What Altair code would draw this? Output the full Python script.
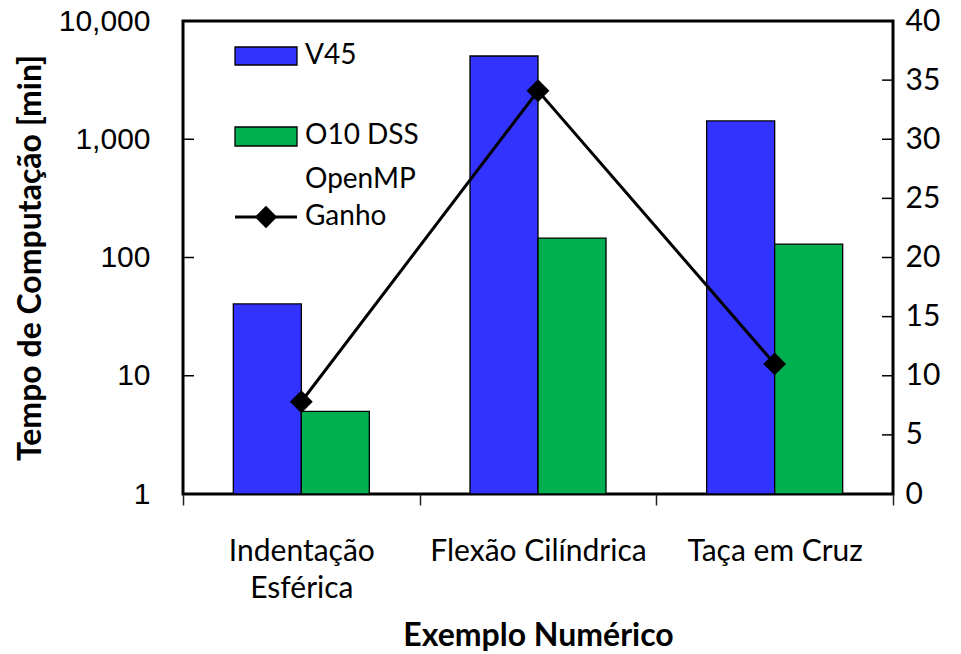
import altair as alt
import pandas as pd

# Computation time per numerical example (minutes, log scale) and speed-up
categorias = ["Indentação\nEsférica", "Flexão Cilíndrica", "Taça em Cruz"]
series = ["V45", "O10 DSS OpenMP"]
tempo_v45 = [40.5, 5060, 1430]
tempo_o10 = [5.0, 146, 130]
ganho = [7.8, 34.1, 11.0]

cores = ["#3333FF", "#00B050"]
log_ticks = [1, 10, 100, 1000, 10000]
ganho_ticks = [0, 5, 10, 15, 20, 25, 30, 35, 40]

W, H = 710, 473
FONT = "Lato"

bars_df = pd.DataFrame(
    [{"categoria": c, "serie": series[0], "tempo": v} for c, v in zip(categorias, tempo_v45)]
    + [{"categoria": c, "serie": series[1], "tempo": v} for c, v in zip(categorias, tempo_o10)]
)
ganho_df = pd.DataFrame({"categoria": categorias, "ganho": ganho})

x_axis = alt.Axis(
    title="Exemplo Numérico",
    labelExpr="split(datum.label, '\\n')",
    labelAngle=0,
    labelLimit=0,
    labelFont=FONT,
    labelFontSize=30,
    labelLineHeight=37,
    labelPadding=31,
    labelColor="black",
    titleFont=FONT,
    titleFontSize=32,
    titleFontWeight="bold",
    titleColor="black",
    titlePadding=17,
    tickBand="extent",
    tickSize=11,
    tickWidth=1.5,
    tickColor="#222",
    domain=False,
    grid=False,
)
x_enc = alt.X(
    "categoria:N", sort=categorias, scale=alt.Scale(paddingInner=0, paddingOuter=0), axis=x_axis
)

y_log = alt.Scale(type="log", domain=[1, 10000])
y_lin = alt.Scale(domain=[0, 40])

log_axis = alt.Axis(
    title="Tempo de Computação [min]",
    values=log_ticks,
    format=",",
    ticks=False,
    domain=False,
    grid=False,
    labelFont="Liberation Sans",
    labelFontSize=30,
    labelColor="black",
    labelPadding=33,
    titleFont=FONT,
    titleFontSize=32,
    titleFontWeight="bold",
    titleColor="black",
    titlePadding=11,
)

bars = alt.Chart(bars_df).mark_bar(stroke="black", strokeWidth=1.3).encode(
    x=x_enc,
    xOffset=alt.XOffset(
        "serie:N", sort=series, scale=alt.Scale(paddingInner=0, paddingOuter=0.74)
    ),
    y=alt.Y("tempo:Q", scale=y_log, axis=log_axis),
    y2=alt.datum(1),
    color=alt.Color("serie:N", scale=alt.Scale(domain=series, range=cores), legend=None),
)

# inward tick marks on the log axis
left_ticks = alt.Chart(pd.DataFrame({"tempo": log_ticks[1:-1]})).mark_rule(
    color="black", strokeWidth=1.5
).encode(x=alt.value(0), x2=alt.value(11), y=alt.Y("tempo:Q", scale=y_log, axis=log_axis))

left = alt.layer(bars, left_ticks)

ganho_axis = alt.Axis(
    orient="right",
    title=None,
    values=ganho_ticks,
    ticks=False,
    domain=False,
    grid=False,
    labelFont=FONT,
    labelFontSize=30,
    labelColor="black",
    labelPadding=12,
)
ganho_y = alt.Y("ganho:Q", scale=y_lin, axis=ganho_axis)

linha = alt.Chart(ganho_df).mark_line(color="black", strokeWidth=3).encode(
    x=alt.X("categoria:N", sort=categorias), y=ganho_y
)
pontos = alt.Chart(ganho_df).mark_point(
    shape="diamond", filled=True, color="black", size=520, opacity=1
).encode(x=alt.X("categoria:N", sort=categorias), y=ganho_y)

# inward tick marks on the gain axis
right_ticks = alt.Chart(pd.DataFrame({"ganho": ganho_ticks[1:-1]})).mark_rule(
    color="black", strokeWidth=1.5
).encode(x=alt.value(W - 11), x2=alt.value(W), y=ganho_y)

right = alt.layer(linha, pontos, right_ticks)

# legend drawn inside the plot area
sw1 = alt.Chart(pd.DataFrame({"a": [0]})).mark_rect(
    fill=cores[0], stroke="black", strokeWidth=1.3
).encode(x=alt.value(52), x2=alt.value(114), y=alt.value(26), y2=alt.value(44))
sw2 = alt.Chart(pd.DataFrame({"a": [0]})).mark_rect(
    fill=cores[1], stroke="black", strokeWidth=1.3
).encode(x=alt.value(52), x2=alt.value(114), y=alt.value(106), y2=alt.value(125))
leg_line = alt.Chart(pd.DataFrame({"a": [0]})).mark_rule(
    color="black", strokeWidth=3
).encode(x=alt.value(52), x2=alt.value(114), y=alt.value(196))
leg_pt = alt.Chart(pd.DataFrame({"a": [0]})).mark_point(
    shape="diamond", filled=True, color="black", size=500, opacity=1
).encode(x=alt.value(83), y=alt.value(196))

leg_text_df = pd.DataFrame(
    {"t": ["V45", "O10 DSS", "OpenMP", "Ganho"], "yy": [35, 115, 159, 196]}
)
leg_text = alt.Chart(leg_text_df).mark_text(
    align="left", baseline="middle", font=FONT, fontSize=28, color="black"
).encode(
    text="t:N",
    x=alt.value(122),
    y=alt.Y("yy:Q", scale=alt.Scale(domain=[0, H], range=[0, H]), axis=None),
)

legend = alt.layer(sw1, sw2, leg_line, leg_pt, leg_text)

chart = (
    alt.layer(left, right, legend)
    .resolve_scale(y="independent")
    .properties(
        width=W,
        height=H,
        padding={"left": 183, "top": 21, "right": 68, "bottom": 160},
        autosize=alt.AutoSizeParams(type="none"),
        background="white",
    )
    .configure_view(stroke="black", strokeWidth=3)
)

chart.save("out.html", embed_options={"renderer": "svg", "actions": False})
